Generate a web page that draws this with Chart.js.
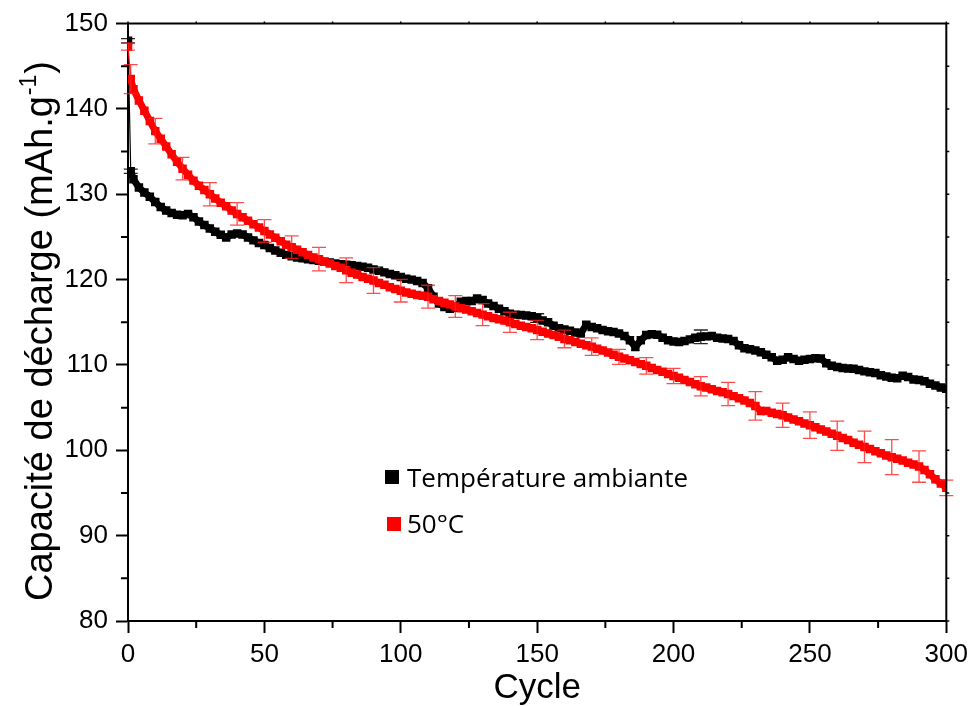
<!DOCTYPE html>
<html><head><meta charset="utf-8">
<script src="https://cdn.jsdelivr.net/npm/chart.js@4.4.1/dist/chart.umd.min.js"></script>
<style>html,body{margin:0;padding:0;background:#fff;}#wrap{width:974px;height:707px;}</style>
</head><body><div id="wrap"><canvas id="c" width="974" height="707"></canvas></div>
<script>
const cycles = [0,1,2,4,6,8,10,12,14,16,18,20,22,24,26,28,30,32,34,36,38,40,42,44,46,48,50,52,54,56,58,60,62,64,66,68,70,72,74,76,78,80,82,84,86,88,90,92,94,96,98,100,102,104,106,108,110,112,114,116,118,120,122,124,126,128,130,132,134,136,138,140,142,144,146,148,150,152,154,156,158,160,162,164,166,168,170,172,174,176,178,180,182,184,186,188,190,192,194,196,198,200,202,204,206,208,210,212,214,216,218,220,222,224,226,228,230,232,234,236,238,240,242,244,246,248,250,252,254,256,258,260,262,264,266,268,270,272,274,276,278,280,282,284,286,288,290,292,294,296,298,300];

const ambiante = [148.0,132.7,131.75,130.8,130.2,129.7,129.1,128.5,128.1,127.8,127.6,127.55,127.7,127.3,126.8,126.4,126.0,125.6,125.25,124.95,125.3,125.4,125.3,124.95,124.6,124.3,124.05,123.7,123.4,123.15,122.9,122.75,122.6,122.5,122.4,122.3,122.2,122.1,122.0,121.9,121.8,121.75,121.7,121.6,121.5,121.4,121.2,121.05,120.85,120.65,120.5,120.3,120.1,120.0,119.85,119.6,119.0,118.0,117.2,116.8,116.6,116.7,117.4,117.5,117.5,117.8,117.6,117.2,116.9,116.6,116.3,116.0,115.9,115.85,115.8,115.7,115.5,115.2,115.0,114.6,114.3,114.15,114.0,113.8,113.7,114.7,114.45,114.3,114.1,113.95,113.85,113.7,113.4,112.9,112.1,112.9,113.5,113.6,113.55,113.2,112.9,112.75,112.7,112.8,113.0,113.2,113.3,113.35,113.4,113.2,113.1,113.05,112.8,112.3,111.95,111.85,111.7,111.5,111.2,110.9,110.5,110.6,110.9,110.7,110.5,110.6,110.7,110.8,110.75,110.2,109.9,109.75,109.65,109.6,109.55,109.4,109.25,109.15,109.05,108.8,108.65,108.5,108.45,108.75,108.6,108.3,108.25,108.1,107.8,107.6,107.35,107.2];

const chaud = [147.3,143.5,142.3,141.0,139.8,138.6,137.4,136.5,135.6,134.7,133.8,133.0,132.3,131.6,131.0,130.5,130.0,129.5,129.0,128.6,128.1,127.7,127.3,126.9,126.5,126.1,125.7,125.3,124.9,124.5,124.1,123.8,123.5,123.2,122.9,122.6,122.4,122.1,121.9,121.6,121.4,121.1,120.8,120.6,120.3,120.1,119.9,119.6,119.4,119.1,118.9,118.7,118.5,118.35,118.2,118.1,118.0,117.7,117.5,117.3,117.1,116.85,116.65,116.5,116.3,116.1,115.9,115.7,115.5,115.35,115.2,115.0,114.8,114.6,114.45,114.3,114.1,113.9,113.7,113.5,113.3,113.05,112.9,112.7,112.5,112.3,112.15,111.9,111.7,111.45,111.2,110.95,110.75,110.55,110.35,110.1,109.9,109.65,109.4,109.2,108.95,108.7,108.5,108.25,108.0,107.75,107.5,107.35,107.15,106.95,106.8,106.6,106.35,106.1,105.85,105.55,105.2,104.6,104.6,104.4,104.25,104.1,103.85,103.6,103.4,103.15,102.95,102.7,102.45,102.2,101.95,101.7,101.45,101.2,100.9,100.65,100.4,100.15,99.9,99.65,99.4,99.2,99.0,98.8,98.55,98.35,98.1,97.7,97.2,96.6,96.1,95.6];

const errCyclesChaud = [0,1,10,20,30,40,50,60,70,80,90,100,110,120,130,140,150,160,170,180,190,200,210,220,230,240,250,260,270,280,290,300];
const errChaud = [0.4,1.7,1.5,1.32,1.36,1.32,1.32,1.32,1.38,1.46,1.5,1.32,1.34,1.28,1.28,1.18,1.13,1.03,1.03,0.87,0.97,0.89,1.13,1.36,1.67,1.42,1.55,1.71,1.84,2.06,1.84,0.9];
const errCyclesAmbiante = [0,1,150,210];
const errAmbiante = [0.25,0.25,0.5,0.8];

const seriesLabels = ['Température ambiante','50°C'];
const seriesColors = ['#000000','#ff0000'];
const xMinorTicks = [25,75,125,175,225,275];
const yMinorTicks = [85,95,105,115,125,135,145];
const yTitleMain = 'Capacité de décharge (mAh.g';
const yTitleSup = '-1';
const yTitleEnd = ')';
const xTitle = 'Cycle';

const FONT = '"Liberation Sans", Arial, sans-serif';

function pts(ys){ return cycles.map((c,i)=>({x:c,y:ys[i]})); }

const errorBars = {
  id:'errorBars',
  afterDatasetsDraw(chart){
    const ctx = chart.ctx, xs = chart.scales.x, ys = chart.scales.y;
    const sets = [
      {cyc:errCyclesAmbiante, err:errAmbiante, vals:ambiante, color:'rgba(0,0,0,0.85)'},
      {cyc:errCyclesChaud, err:errChaud, vals:chaud, color:'rgba(255,30,30,0.8)'}
    ];
    ctx.save();
    ctx.lineWidth = 1.3;
    sets.forEach(s=>{
      ctx.strokeStyle = s.color;
      s.cyc.forEach((c,k)=>{
        const i = cycles.indexOf(c);
        if(i<0) return;
        const v = s.vals[i], e = s.err[k];
        const px = xs.getPixelForValue(c);
        const y1 = ys.getPixelForValue(v+e), y2 = ys.getPixelForValue(v-e);
        ctx.beginPath();
        ctx.moveTo(px,y1); ctx.lineTo(px,y2);
        ctx.moveTo(px-7,y1); ctx.lineTo(px+7,y1);
        ctx.moveTo(px-7,y2); ctx.lineTo(px+7,y2);
        ctx.stroke();
      });
    });
    ctx.restore();
  }
};

const frame = {
  id:'frame',
  afterDraw(chart){
    const ctx = chart.ctx, a = chart.chartArea, xs = chart.scales.x, ys = chart.scales.y;
    ctx.save();
    ctx.strokeStyle = '#000';
    ctx.lineWidth = 2;
    ctx.beginPath();
    ctx.moveTo(a.left-1, a.top); ctx.lineTo(a.right, a.top); ctx.lineTo(a.right, a.bottom+1);
    ctx.stroke();
    ctx.beginPath();
    xMinorTicks.forEach(v=>{ const p = xs.getPixelForValue(v); ctx.moveTo(p,a.bottom); ctx.lineTo(p,a.bottom+7); });
    yMinorTicks.forEach(v=>{ const p = ys.getPixelForValue(v); ctx.moveTo(a.left,p); ctx.lineTo(a.left-7,p); });
    ctx.stroke();
    ctx.lineWidth = 1.5;
    ctx.beginPath();
    xs.ticks.forEach(t=>{ const p = xs.getPixelForValue(t.value); ctx.moveTo(p,a.top); ctx.lineTo(p,a.top-2); });
    xMinorTicks.forEach(v=>{ const p = xs.getPixelForValue(v); ctx.moveTo(p,a.top); ctx.lineTo(p,a.top-2); });
    ys.ticks.forEach(t=>{ const p = ys.getPixelForValue(t.value); ctx.moveTo(a.right,p); ctx.lineTo(a.right+3,p); });
    yMinorTicks.forEach(v=>{ const p = ys.getPixelForValue(v); ctx.moveTo(a.right,p); ctx.lineTo(a.right+3,p); });
    ctx.stroke();

    // y title
    ctx.fillStyle = '#000';
    const big = '38px ' + FONT, small = '23px ' + FONT;
    ctx.font = big; const w1 = ctx.measureText(yTitleMain).width; const w3 = ctx.measureText(yTitleEnd).width;
    ctx.font = small; const w2 = ctx.measureText(yTitleSup).width;
    const total = w1 + w2 + 2 + w3;
    const cy = 331;
    ctx.translate(52, cy + total/2);
    ctx.rotate(-Math.PI/2);
    ctx.textBaseline = 'alphabetic';
    ctx.textAlign = 'left';
    ctx.font = big; ctx.fillText(yTitleMain, 0, 0);
    ctx.font = small; ctx.fillText(yTitleSup, w1 + 1, -16);
    ctx.font = big; ctx.fillText(yTitleEnd, w1 + w2 + 2, 0);
    ctx.restore();

    // legend
    ctx.save();
    ctx.font = '26px "Open Sans", sans-serif';
    ctx.textBaseline = 'alphabetic';
    ctx.textAlign = 'left';
    const items = chart.data.datasets;
    const lx = [385, 387], ly = [470, 517], base = [487, 533];
    items.forEach((d,i)=>{
      ctx.fillStyle = d.backgroundColor;
      ctx.fillRect(lx[i], ly[i], 14, 14);
      ctx.fillStyle = '#000';
      ctx.fillText(d.label, 407, base[i]);
    });
    ctx.restore();
  }
};

const segW = c => c.p0DataIndex === 0 ? 1.2 : 7;

new Chart(document.getElementById('c'), {
  type:'scatter',
  data:{ datasets:[
    {label:seriesLabels[0], data:pts(ambiante), showLine:true, borderColor:seriesColors[0], backgroundColor:seriesColors[0], borderWidth:7, segment:{borderWidth:segW}, borderJoinStyle:'round', pointStyle:'rect', pointRadius:6, pointBorderWidth:0, order:2},
    {label:seriesLabels[1], data:pts(chaud), showLine:true, borderColor:seriesColors[1], backgroundColor:seriesColors[1], borderWidth:7, segment:{borderWidth:segW}, borderJoinStyle:'round', pointStyle:'rect', pointRadius:6, pointBorderWidth:0, order:1}
  ]},
  options:{
    responsive:false, animation:false, devicePixelRatio:1,
    layout:{padding:{left:0,right:27,top:20,bottom:0}},
    plugins:{legend:{display:false}, tooltip:{enabled:false}},
    scales:{
      x:{type:'linear', min:0, max:300,
        afterFit(s){ s.height = 86; },
        ticks:{stepSize:50, color:'#000', font:{family:FONT, size:26}, padding:6, maxRotation:0},
        grid:{drawOnChartArea:false, drawTicks:true, tickLength:12, tickWidth:2, tickColor:'#000'},
        border:{display:true, color:'#000', width:2},
        title:{display:true, text:xTitle, color:'#000', font:{family:FONT, size:35}, padding:{top:0,bottom:-2}}
      },
      y:{type:'linear', min:80, max:150,
        afterFit(s){ s.width = 128; },
        ticks:{stepSize:10, color:'#000', font:{family:FONT, size:26}, padding:8},
        grid:{drawOnChartArea:false, drawTicks:true, tickLength:12, tickWidth:2, tickColor:'#000'},
        border:{display:true, color:'#000', width:2}
      }
    }
  },
  plugins:[errorBars, frame]
});
</script></body></html>
